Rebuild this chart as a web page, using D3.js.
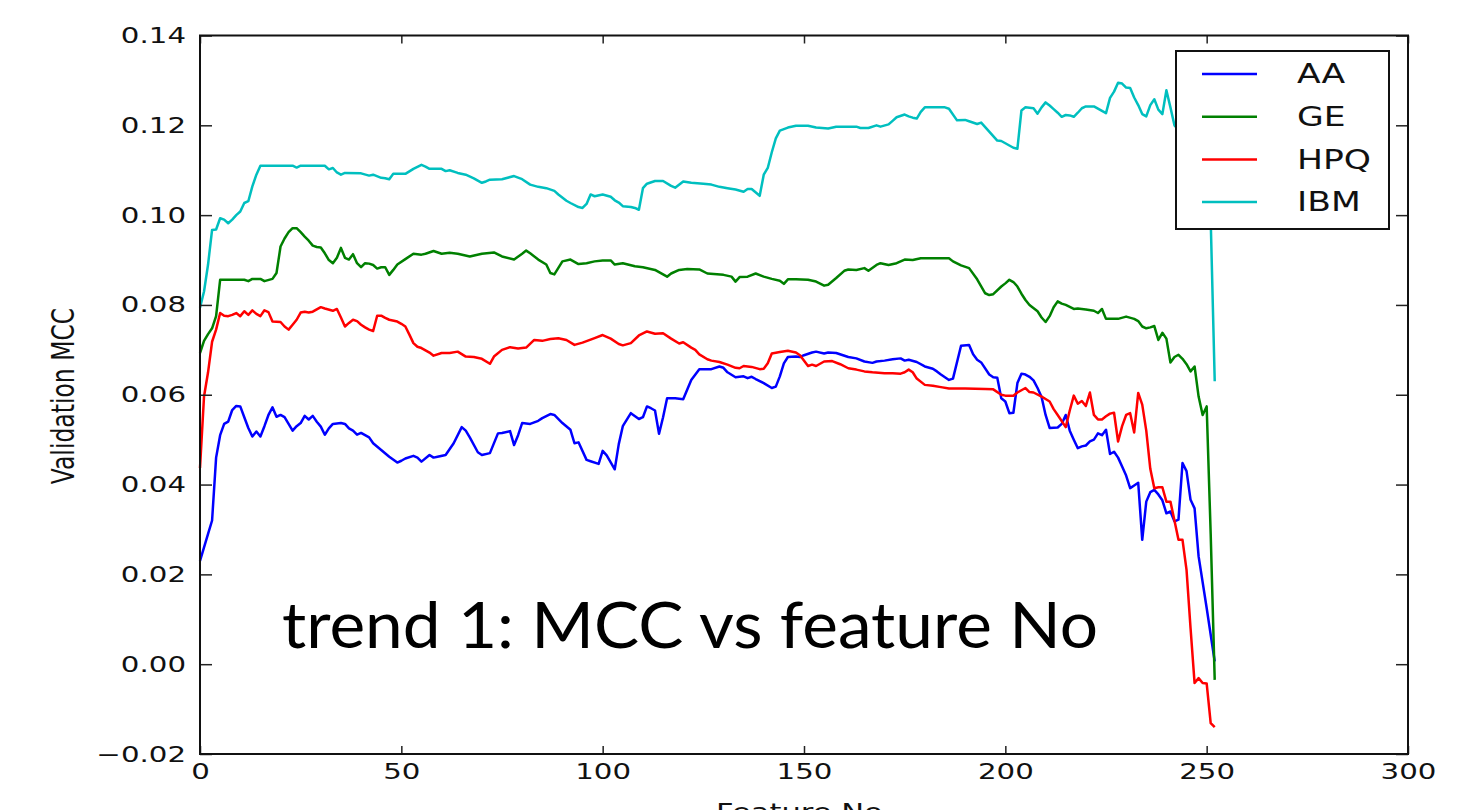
<!DOCTYPE html>
<html>
<head>
<meta charset="utf-8">
<script src="https://cdn.jsdelivr.net/npm/d3@7"></script>
<style>
  body { margin: 0; background: #fff; }
  svg { display: block; }
  .tick text { font-family: "DejaVu Sans", sans-serif; font-size: 22px; fill: #111; }
</style>
</head>
<body>
<div id="app"></div>
<script>
const width = 1475,
    height = 810,
    margin = {top: 35.5, right: 67, bottom: 56, left: 200};

// the source picture is stretched sideways, text too
const stretchX = 1.33;

const seriesNames = ["AA", "GE", "HPQ", "IBM"];
const seriesColors = ["#0000ff", "#008000", "#ff0000", "#00bfbf"];
const xTicks = [0, 50, 100, 150, 200, 250, 300];
const yTicks = [-0.02, 0, 0.02, 0.04, 0.06, 0.08, 0.10, 0.12, 0.14];

// [feature no, validation MCC]
const aaPoints = [[0,0.023],[1,0.026],[2,0.029],[3,0.032],[4,0.046],[5,0.051],[6,0.0535],[7,0.054],[8,0.0566],[9,0.0575],[10,0.0574],[11,0.055],[12,0.0526],[13,0.0507],[14,0.0518],[15,0.0507],[16,0.053],[17,0.0555],[18,0.0572],[19,0.0551],[20,0.0555],[21,0.055],[22,0.0535],[23,0.052],[24,0.053],[25,0.0537],[26,0.0553],[27,0.0545],[28,0.0553],[29,0.054],[30,0.0529],[31,0.0511],[32,0.0525],[33,0.0535],[35,0.0537],[36,0.0535],[37,0.0525],[38,0.052],[39,0.0511],[40,0.0515],[41,0.051],[42,0.0505],[43,0.0492],[45,0.0477],[47,0.0462],[49,0.0449],[50,0.0453],[51,0.0458],[53,0.0464],[54,0.046],[55,0.0451],[57,0.0466],[58,0.046],[59,0.0462],[61,0.0466],[63,0.0492],[65,0.0528],[66,0.052],[67,0.0505],[69,0.0472],[70,0.0466],[72,0.047],[74,0.0514],[75,0.0515],[77,0.0519],[78,0.0488],[79,0.051],[80,0.0537],[82,0.0535],[84,0.0542],[85,0.0548],[87,0.0557],[88,0.0555],[90,0.0537],[92,0.0522],[93,0.0492],[94,0.0494],[96,0.0455],[97,0.0452],[99,0.0446],[100,0.0475],[101,0.0465],[103,0.0434],[104,0.049],[105,0.053],[107,0.0559],[109,0.0546],[110,0.055],[111,0.0574],[112,0.057],[113,0.0565],[114,0.0513],[115,0.055],[116,0.0592],[118,0.0592],[120,0.059],[122,0.0633],[124,0.0657],[127,0.0657],[129,0.0663],[130,0.066],[131,0.065],[133,0.0639],[135,0.0641],[136,0.0637],[137,0.064],[138,0.0635],[140,0.0626],[142,0.0615],[143,0.0618],[144,0.0641],[145,0.067],[146,0.0684],[148,0.0685],[149,0.0684],[150,0.0688],[152,0.0694],[153,0.0696],[155,0.0692],[156,0.0694],[158,0.0693],[161,0.0684],[163,0.0681],[165,0.0674],[167,0.0671],[168,0.0674],[170,0.0676],[172,0.0679],[174,0.0681],[175,0.0676],[176,0.0678],[178,0.0673],[180,0.0663],[182,0.0658],[183,0.0652],[184,0.0645],[186,0.0633],[187,0.0636],[189,0.0709],[191,0.0711],[192,0.069],[193,0.0678],[194,0.0672],[196,0.0645],[197,0.0639],[198,0.0638],[199,0.0592],[200,0.0585],[201,0.0559],[202,0.056],[203,0.0626],[204,0.0647],[205,0.0645],[206,0.064],[207,0.0632],[208,0.0615],[209,0.0595],[210,0.0555],[211,0.0526],[213,0.0527],[214,0.0535],[215,0.0555],[216,0.052],[217,0.05],[218,0.0481],[219,0.0485],[220,0.0487],[221,0.0496],[222,0.05],[223,0.0514],[224,0.051],[225,0.0522],[226,0.0468],[227,0.0473],[228,0.046],[229,0.044],[230,0.042],[231,0.0392],[232,0.0398],[233,0.0404],[234,0.0277],[235,0.0362],[236,0.0383],[237,0.0388],[238,0.0378],[239,0.0365],[240,0.0336],[241,0.034],[242,0.0318],[243,0.0322],[244,0.0448],[245,0.043],[246,0.0366],[247,0.0347],[248,0.024],[250,0.0125],[252,0.0006]];

const gePoints = [[0,0.0693],[1,0.072],[2,0.0735],[3,0.0748],[4,0.0775],[5,0.0856],[11,0.0856],[12,0.0853],[13,0.0858],[15,0.0858],[16,0.0853],[18,0.0858],[19,0.0871],[20,0.093],[21,0.0948],[22,0.0962],[23,0.0971],[24,0.0971],[25,0.0962],[26,0.0952],[27,0.0943],[28,0.0932],[29,0.0929],[30,0.0928],[31,0.0915],[32,0.09],[33,0.0893],[34,0.0905],[35,0.0927],[36,0.0905],[37,0.0901],[38,0.0913],[39,0.0893],[40,0.0884],[41,0.0893],[42,0.0892],[43,0.0889],[44,0.0881],[45,0.0884],[46,0.0884],[47,0.0867],[48,0.0878],[49,0.089],[51,0.0902],[53,0.0914],[55,0.0912],[56,0.0914],[58,0.092],[60,0.0914],[62,0.0916],[64,0.0914],[67,0.0908],[70,0.0914],[73,0.0917],[75,0.0908],[78,0.0901],[80,0.0914],[81,0.0921],[82,0.0915],[84,0.0901],[86,0.089],[87,0.0871],[88,0.0868],[90,0.0897],[92,0.0901],[94,0.0891],[96,0.0893],[98,0.0897],[100,0.0899],[102,0.0899],[103,0.089],[105,0.0893],[108,0.0886],[110,0.0884],[113,0.0878],[115,0.0868],[116,0.0863],[117,0.087],[119,0.0878],[121,0.088],[124,0.0879],[126,0.087],[130,0.0867],[132,0.0863],[133,0.0852],[134,0.0862],[136,0.0863],[138,0.087],[140,0.0863],[142,0.0858],[144,0.0854],[145,0.0847],[146,0.0857],[148,0.0857],[151,0.0856],[153,0.0852],[155,0.0843],[156,0.0845],[158,0.086],[160,0.0876],[161,0.0879],[163,0.0878],[165,0.0882],[166,0.0876],[168,0.0889],[169,0.0893],[171,0.0889],[173,0.0893],[175,0.0901],[177,0.09],[179,0.0904],[186,0.0904],[187,0.0897],[189,0.0888],[191,0.0882],[193,0.0857],[195,0.0826],[196,0.0822],[197,0.0824],[199,0.0841],[200,0.0848],[201,0.0856],[202,0.0851],[203,0.0841],[204,0.0825],[205,0.0811],[206,0.08],[208,0.0786],[209,0.0772],[210,0.0762],[211,0.0775],[212,0.0795],[213,0.0808],[214,0.0803],[215,0.08],[217,0.0791],[218,0.0792],[220,0.079],[222,0.0787],[223,0.0782],[224,0.0791],[225,0.0769],[228,0.0769],[230,0.0774],[232,0.0769],[233,0.0764],[234,0.0752],[235,0.0748],[236,0.075],[237,0.0753],[238,0.0722],[239,0.0738],[240,0.0725],[241,0.0672],[242,0.0684],[243,0.0689],[244,0.068],[245,0.0668],[246,0.0652],[247,0.0663],[248,0.0596],[249,0.0555],[250,0.0574],[251,0.029],[252,-0.0035]];

const hpqPoints = [[0,0.0437],[1,0.0596],[2,0.065],[3,0.0718],[4,0.0745],[5,0.0782],[6,0.0776],[7,0.0775],[8,0.0778],[9,0.0782],[10,0.0775],[11,0.0786],[12,0.0778],[13,0.0788],[14,0.078],[15,0.0775],[16,0.0788],[17,0.0784],[18,0.0763],[20,0.0762],[21,0.0752],[22,0.0745],[23,0.0756],[24,0.0767],[25,0.0783],[26,0.0785],[27,0.0783],[28,0.0785],[30,0.0795],[31,0.0792],[33,0.0787],[34,0.0791],[35,0.0772],[36,0.0752],[37,0.076],[38,0.0767],[39,0.0764],[40,0.0756],[41,0.075],[42,0.0745],[43,0.0742],[44,0.0776],[45,0.0776],[46,0.0771],[47,0.0767],[49,0.0763],[50,0.0758],[51,0.0752],[52,0.0734],[53,0.0715],[54,0.0707],[55,0.0704],[57,0.0694],[58,0.0687],[60,0.0693],[62,0.0693],[64,0.0696],[66,0.0685],[68,0.0684],[70,0.068],[72,0.0669],[73,0.0685],[75,0.07],[77,0.0706],[79,0.0703],[81,0.0705],[83,0.0722],[85,0.072],[87,0.0724],[89,0.0726],[91,0.0722],[93,0.0711],[95,0.0716],[98,0.0726],[100,0.0733],[102,0.0725],[104,0.0713],[105,0.071],[107,0.0715],[109,0.0732],[111,0.0741],[113,0.0736],[115,0.0737],[117,0.0725],[119,0.0714],[120,0.0717],[122,0.0705],[123,0.07],[124,0.069],[126,0.0679],[127,0.0676],[129,0.0673],[131,0.0667],[133,0.066],[134,0.0659],[135,0.0664],[137,0.0662],[139,0.0657],[140,0.0658],[141,0.067],[142,0.0692],[144,0.0695],[146,0.0698],[148,0.0694],[149,0.0688],[151,0.0664],[152,0.0667],[153,0.0664],[155,0.0674],[157,0.0675],[159,0.0668],[161,0.0659],[163,0.0656],[165,0.0652],[167,0.065],[170,0.0648],[172,0.0648],[174,0.0647],[175,0.065],[176,0.0656],[177,0.065],[178,0.0636],[180,0.0622],[182,0.062],[184,0.0617],[186,0.0614],[190,0.0614],[195,0.0613],[197,0.0612],[199,0.06],[200,0.0598],[202,0.0598],[203,0.0605],[205,0.0615],[206,0.0606],[207,0.0605],[209,0.0596],[211,0.0585],[212,0.0568],[213,0.0555],[215,0.0528],[216,0.0565],[217,0.0598],[218,0.058],[219,0.0586],[220,0.0575],[221,0.0605],[222,0.0555],[223,0.0545],[224,0.0545],[225,0.0552],[226,0.0558],[227,0.056],[228,0.0496],[229,0.053],[230,0.0555],[231,0.0559],[232,0.0516],[233,0.0604],[234,0.0578],[235,0.052],[236,0.0435],[237,0.0392],[238,0.0394],[239,0.0394],[240,0.0362],[241,0.0362],[242,0.032],[243,0.0277],[244,0.0277],[245,0.021],[246,0.008],[247,-0.0042],[248,-0.0031],[249,-0.0042],[250,-0.0043],[251,-0.0131],[252,-0.014]];

const ibmPoints = [[0,0.0794],[1,0.083],[2,0.089],[3,0.0967],[4,0.0968],[5,0.0993],[6,0.099],[7,0.0982],[8,0.099],[9,0.1],[10,0.1008],[11,0.1027],[12,0.1031],[13,0.1064],[14,0.109],[15,0.111],[23,0.111],[24,0.1106],[25,0.111],[31,0.111],[32,0.1102],[33,0.1105],[34,0.1095],[35,0.109],[36,0.1094],[40,0.1093],[42,0.1088],[43,0.109],[45,0.1083],[46,0.1082],[47,0.108],[48,0.1092],[51,0.1092],[53,0.1103],[55,0.1112],[56,0.1108],[57,0.1103],[60,0.1103],[61,0.1098],[62,0.11],[64,0.1094],[66,0.109],[68,0.1082],[70,0.1072],[71,0.1075],[72,0.1079],[75,0.108],[78,0.1087],[80,0.108],[82,0.1068],[84,0.1063],[86,0.106],[88,0.1054],[89,0.1046],[91,0.1032],[92,0.1027],[94,0.1018],[95,0.1016],[96,0.1025],[97,0.1046],[98,0.1042],[100,0.1046],[102,0.1041],[103,0.1033],[104,0.1028],[105,0.102],[107,0.1018],[108,0.1016],[109,0.1012],[110,0.106],[111,0.107],[113,0.1076],[115,0.1076],[117,0.1065],[118,0.1061],[120,0.1075],[122,0.1072],[125,0.107],[127,0.1068],[129,0.1063],[131,0.106],[133,0.1057],[135,0.1052],[136,0.1058],[137,0.1058],[139,0.1043],[140,0.109],[141,0.1105],[142,0.114],[143,0.1171],[144,0.1188],[146,0.1195],[148,0.1199],[151,0.1199],[153,0.1195],[156,0.1193],[158,0.1197],[163,0.1197],[164,0.1194],[166,0.1194],[168,0.12],[169,0.1197],[171,0.1202],[172,0.121],[173,0.1218],[175,0.1224],[176,0.122],[177,0.1217],[178,0.1215],[179,0.123],[180,0.124],[185,0.124],[186,0.1237],[188,0.1211],[190,0.1212],[191,0.1209],[193,0.1203],[194,0.1206],[196,0.1186],[198,0.1166],[199,0.1165],[200,0.116],[201,0.1155],[202,0.115],[203,0.1148],[204,0.1233],[205,0.124],[206,0.1239],[207,0.1238],[208,0.1226],[209,0.124],[210,0.1251],[211,0.1244],[212,0.1236],[213,0.1228],[214,0.1219],[215,0.1223],[216,0.1222],[217,0.1219],[218,0.1228],[219,0.1238],[220,0.1242],[222,0.1242],[224,0.1232],[225,0.1227],[226,0.1261],[227,0.1275],[228,0.1295],[229,0.1293],[230,0.1284],[231,0.1283],[232,0.1262],[233,0.1245],[234,0.1225],[235,0.122],[236,0.1245],[237,0.1258],[238,0.1235],[239,0.1225],[240,0.1278],[241,0.124],[242,0.12],[244,0.118],[246,0.117],[248,0.116],[250,0.112],[251,0.099],[252,0.063]];

const seriesPoints = [aaPoints, gePoints, hpqPoints, ibmPoints];

const innerW = width - margin.left - margin.right,
    innerH = height - margin.top - margin.bottom;

const x = d3.scaleLinear().domain([0, 300]).range([0, innerW]);
const y = d3.scaleLinear().domain([-0.02, 0.14]).range([innerH, 0]);

//scale text sideways around its anchor
const stretch = (sel) => {
    sel.each(function() {
        const t = d3.select(this);
        const ax = +t.attr("x") || 0;
        t.attr("transform", `translate(${ax * (1 - stretchX)},0) scale(${stretchX},1)`);
    });
};

const svg = d3.select("#app").append("svg")
    .attr("width", width)
    .attr("height", height);

const g = svg.append("g")
    .attr("transform", "translate(" + margin.left + "," + margin.top + ")");

const line = d3.line()
    .x(d => x(d[0]))
    .y(d => y(d[1]));

seriesPoints.forEach((pts, i) => {
    g.append("path")
        .datum(pts)
        .attr("fill", "none")
        .attr("stroke", seriesColors[i])
        .attr("stroke-width", 2.5)
        .attr("stroke-linejoin", "round")
        .attr("d", line);
});

// axes, ticks pointing inwards on all four sides
const fmt = d3.format(".2f");

const xAxis = g.append("g")
    .attr("transform", "translate(0," + innerH + ")")
    .call(d3.axisBottom(x).tickValues(xTicks).tickSizeInner(-8).tickSizeOuter(0).tickPadding(9).tickFormat(d3.format("d")));
const yAxis = g.append("g")
    .call(d3.axisLeft(y).tickValues(yTicks).tickSizeInner(-12).tickSizeOuter(0).tickPadding(14).tickFormat(fmt));
const topAxis = g.append("g")
    .call(d3.axisTop(x).tickValues(xTicks).tickSizeInner(-8).tickSizeOuter(0).tickFormat(""));
const rightAxis = g.append("g")
    .attr("transform", "translate(" + innerW + ",0)")
    .call(d3.axisRight(y).tickValues(yTicks).tickSizeInner(-12).tickSizeOuter(0).tickFormat(""));

[xAxis, yAxis, topAxis, rightAxis].forEach(a => {
    a.select(".domain").remove();
    a.selectAll(".tick line").attr("stroke", "#222").attr("stroke-width", 1.5);
});
stretch(xAxis.selectAll(".tick text"));
stretch(yAxis.selectAll(".tick text"));

g.append("rect")
    .attr("width", innerW)
    .attr("height", innerH)
    .attr("fill", "none")
    .attr("stroke", "#111")
    .attr("stroke-width", 2);

// axis titles
g.append("text")
    .attr("transform", `translate(${63 - margin.left},${396 - margin.top}) scale(${stretchX},1) rotate(-90)`)
    .attr("text-anchor", "middle")
    .attr("dy", "0.36em")
    .style("font-family", "DejaVu Sans")
    .style("font-size", "23.5px")
    .attr("fill", "#111")
    .text("Validation MCC");

g.append("text")
    .attr("transform", `translate(${innerW / 2},${820 - margin.top}) scale(${stretchX},1)`)
    .attr("text-anchor", "middle")
    .style("font-family", "DejaVu Sans")
    .style("font-size", "23px")
    .attr("fill", "#111")
    .text("Feature No.");

// legend
const legend = svg.append("g").attr("transform", "translate(1176,51)");
legend.append("rect")
    .attr("width", 213)
    .attr("height", 178)
    .attr("fill", "#fff")
    .attr("stroke", "#111")
    .attr("stroke-width", 2);

seriesNames.forEach((name, i) => {
    const ry = 23 + i * 42.7;
    legend.append("line")
        .attr("x1", 26).attr("x2", 81)
        .attr("y1", ry).attr("y2", ry)
        .attr("stroke", seriesColors[i])
        .attr("stroke-width", 2.5);
    const t = legend.append("text")
        .attr("x", 121)
        .attr("y", ry)
        .attr("dy", "0.36em")
        .style("font-family", "DejaVu Sans")
        .style("font-size", "26px")
        .attr("fill", "#111")
        .text(name);
    stretch(t);
});

// overlay caption
svg.append("text")
    .attr("x", 282)
    .attr("y", 648)
    .attr("textLength", 816)
    .attr("lengthAdjust", "spacingAndGlyphs")
    .style("font-family", "Lato, 'Open Sans', sans-serif")
    .style("font-size", "64px")
    .attr("fill", "#000")
    .text("trend 1: MCC vs feature No");
</script>
</body>
</html>
